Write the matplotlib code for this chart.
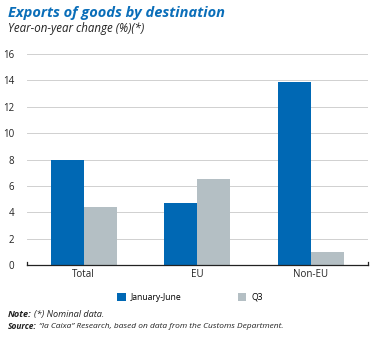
import matplotlib
matplotlib.use("Agg")
import matplotlib.pyplot as plt
import numpy as np

categories = ["Total", "EU", "Non-EU"]
jan_june = [8.0, 4.7, 13.9]
q3 = [4.4, 6.5, 1.0]
yticks = [0, 2, 4, 6, 8, 10, 12, 14, 16]

BLUE = "#0068B4"
GRAY = "#B4BFC4"
FONT = "Open Sans"
TXT = "#222222"

fig = plt.figure(figsize=(3.8, 3.38), dpi=100)
ax = fig.add_axes([0.071, 0.216, 0.897, 0.624])

x = np.arange(len(categories))
w = 0.29
ax.bar(x - w / 2, jan_june, w, color=BLUE, label="January-June", zorder=3)
ax.bar(x + w / 2, q3, w, color=GRAY, label="Q3", zorder=3)

ax.set_xlim(-0.5, 2.5)
ax.set_ylim(0, 16)
ax.set_yticks(yticks)
ax.set_yticklabels([str(v) for v in yticks], fontsize=7, family=FONT, color=TXT)
ax.set_xticks(x)
ax.set_xticklabels(categories, fontsize=7, family=FONT, color=TXT)
ax.tick_params(axis="both", length=0, pad=3)
ax.tick_params(axis="y", pad=9)
ax.grid(axis="y", color="#D0D0D0", linewidth=0.7, zorder=0)
for s in ["top", "right", "left"]:
    ax.spines[s].set_visible(False)
ax.spines["bottom"].set_color(TXT)
ax.spines["bottom"].set_linewidth(0.9)
ax.spines["bottom"].set_zorder(4)
for xe in [0.0, 1.0]:
    ax.plot([xe, xe], [0, 0.012], transform=ax.transAxes, color=TXT, lw=0.9, clip_on=False, zorder=4)

fig.text(0.021, 0.962, "Exports of goods by destination", fontsize=10.5, fontweight="bold",
         style="italic", color="#0A6EB9", family=FONT, va="center")
fig.text(0.021, 0.915, "Year-on-year change (%)(*)", fontsize=8.3, style="italic",
         color=TXT, family=FONT, va="center")

leg = fig.legend(loc="center", bbox_to_anchor=(0.5, 0.121), ncol=2, frameon=False,
                 prop={"family": FONT, "size": 6.2}, handlelength=1.0, handleheight=1.0,
                 columnspacing=6.5, handletextpad=0.6)

renderer = fig.canvas.get_renderer()

def label_line(y, bold, rest, size=6.3):
    t = fig.text(0.021, y, bold, fontsize=size, style="italic", fontweight="bold",
                 color=TXT, family=FONT, va="center")
    bb = t.get_window_extent(renderer=renderer)
    x1 = bb.x1 / fig.bbox.width + 0.006
    fig.text(x1, y, rest, fontsize=size, style="italic", color=TXT, family=FONT, va="center")

label_line(0.071, "Note:", "(*) Nominal data.", size=6.6)
label_line(0.034, "Source:", "\u201cla Caixa\u201d Research, based on data from the Customs Department.", size=6.0)

fig.savefig("out.png", dpi=100)
